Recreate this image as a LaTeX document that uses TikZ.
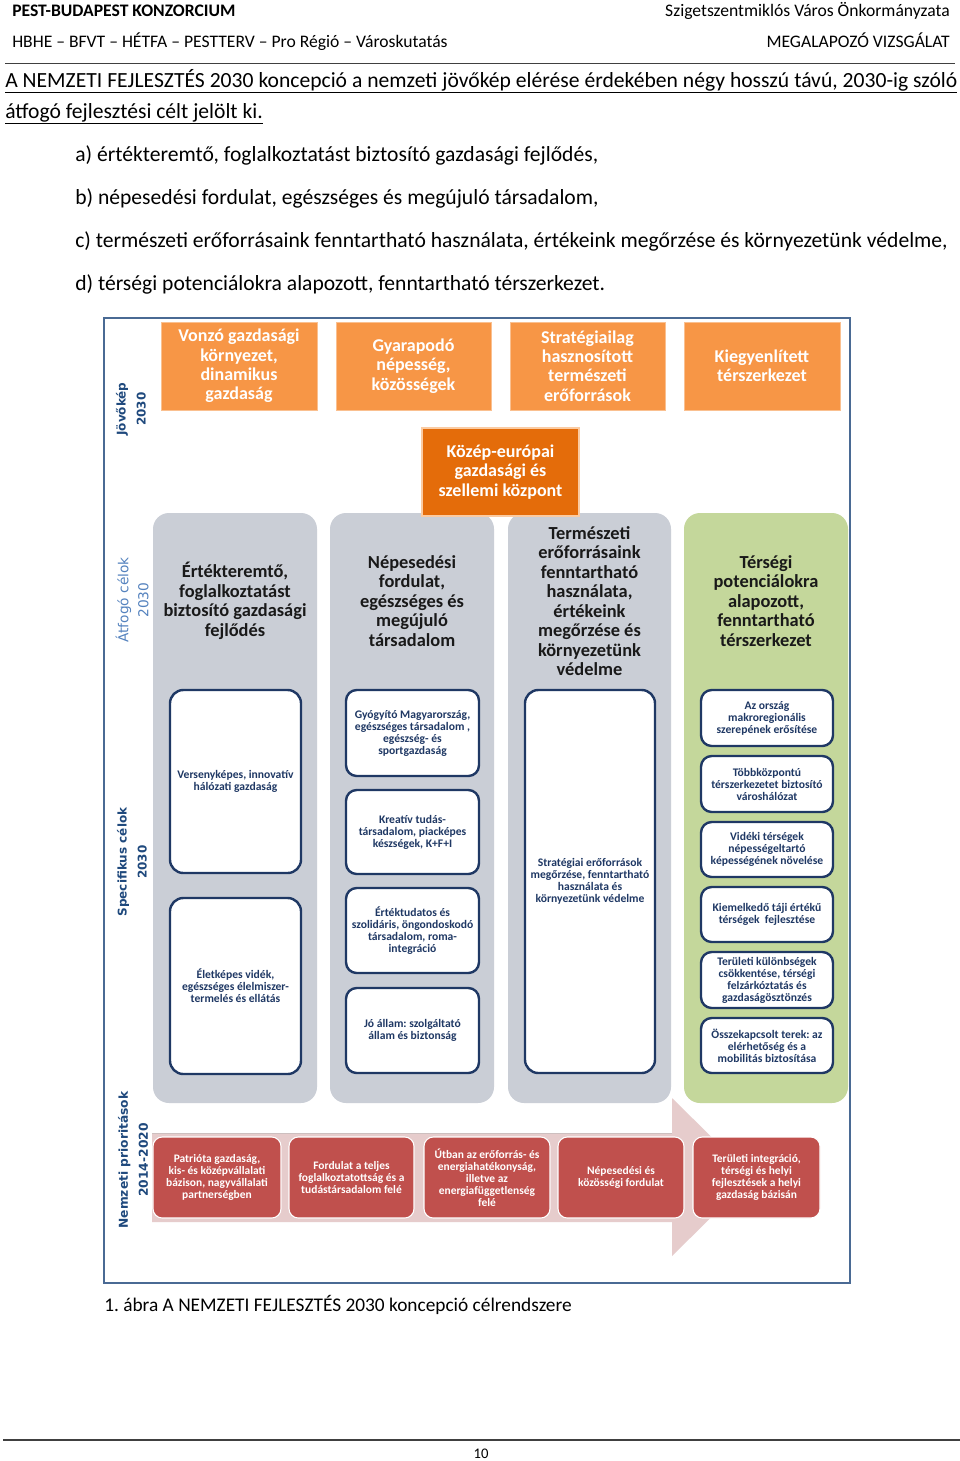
\documentclass[tikz,border=0pt]{standalone}
\usepackage{fontspec}
\setmainfont{Carlito}
\newfontfamily\lblfont{DejaVu Sans}
\frenchspacing
\definecolor{frameC}{RGB}{74,106,148}
\definecolor{orL}{RGB}{247,150,70}
\definecolor{orD}{RGB}{228,108,10}
\definecolor{colgray}{RGB}{202,206,214}
\definecolor{colgreen}{RGB}{196,215,155}
\definecolor{navy}{RGB}{31,56,100}
\definecolor{redC}{RGB}{192,80,77}
\definecolor{pinkC}{RGB}{230,204,204}
\definecolor{dblue}{RGB}{31,73,125}
\definecolor{lblue}{RGB}{84,130,190}
\begin{document}
\begin{tikzpicture}[x=0.75pt,y=-0.75pt,
  bxat/.style n args={4}{inner sep=0pt, outer sep=0pt,
    minimum width={(#3-#1)*0.75pt}, minimum height={(#4-#2)*0.75pt},
    at={({(#1+#3)/2},{(#2+#4)/2})}},
  obox/.style={fill=orL, draw=orL!60!white, line width=0.6pt, text=white, align=center,
    font=\bfseries\fontsize{13.5}{14.6}\selectfont},
  cbox/.style={fill=orD, draw=orL!50!white, line width=1.5pt, text=white, align=center,
    font=\bfseries\fontsize{13.5}{14.6}\selectfont},
  colbox/.style={fill=colgray, rounded corners=12pt},
  hdr/.style={inner sep=0pt, align=center, text=black!90, font=\bfseries\fontsize{13.8}{14.6}\selectfont},
  ibox/.style={fill=white, draw=navy, line width=1.8pt, rounded corners=8pt, text=navy, align=center,
    font=\bfseries\fontsize{8.7}{9}\selectfont},
  rbox/.style={fill=redC, draw=white, line width=0.8pt, rounded corners=7pt, text=white, align=center,
    font=\bfseries\fontsize{8.6}{8.9}\selectfont},
  vlab/.style={rotate=90, inner sep=0pt, align=center, text=dblue, font=\lblfont\bfseries\fontsize{9}{15}\selectfont},
  txt/.style={inner sep=0pt, anchor=base west, font=\fontsize{16.2}{19}\selectfont},
  head/.style={inner sep=0pt, font=\fontsize{13.2}{15}\selectfont}
]
\useasboundingbox (0,0) rectangle (960,1461);
\fill[white] (0,0) rectangle (960,1461);

% page header
\node[head, anchor=base west, font=\bfseries\fontsize{13.2}{15}\selectfont] (h1) at (12,16) {PEST-BUDAPEST KONZORCIUM};
\node[head, anchor=base east] (h2) at (950,16) {Szigetszentmiklós Város Önkormányzata};
\node[head, anchor=base west] (h3) at (12,47) {HBHE – BFVT – HÉTFA – PESTTERV – Pro Régió – Városkutatás};
\node[head, anchor=base east] (h4) at (950,47) {MEGALAPOZÓ VIZSGÁLAT};
\coordinate (hl1) at (5,63);
\coordinate (hl2) at (955,63);
\draw[black!75, line width=0.75pt] (hl1) -- (hl2);

% body text
\node[txt] (p1) at (5,87) {\underline{\makebox[714pt][s]{A NEMZETI FEJLESZTÉS 2030 koncepció a nemzeti jövőkép elérése érdekében négy hosszú távú, 2030-ig szóló}}};
\node[txt] (p2) at (5,118) {\underline{átfogó fejlesztési célt jelölt ki.}};
\node[txt] (la) at (75,161) {a) értékteremtő, foglalkoztatást biztosító gazdasági fejlődés,};
\node[txt] (lb) at (75,204) {b) népesedési fordulat, egészséges és megújuló társadalom,};
\node[txt] (lc) at (75,247) {c) természeti erőforrásaink fenntartható használata, értékeink megőrzése és környezetünk védelme,};
\node[txt] (ld) at (75,290) {d) térségi potenciálokra alapozott, fenntartható térszerkezet.};

% diagram frame
\node[bxat={104}{318}{850}{1283}, draw=frameC, line width=1.5pt] (frame) {};

% vertical labels
\node[vlab] (v1) at (131,409) {Jövőkép\\2030};
\node[vlab, text=lblue, font=\lblfont\fontsize{10.3}{15}\selectfont] (v2) at (132,600) {Átfogó célok\\2030};
\node[vlab] (v3) at (132,862) {Specifikus célok\\2030};
\node[vlab, font=\lblfont\bfseries\fontsize{9.2}{15}\selectfont] (v4) at (133,1160) {Nemzeti prioritások\\2014-2020};

% top orange boxes
\node[obox, bxat={161}{322}{317}{410}] (o1) {Vonzó gazdasági\\környezet,\\dinamikus\\gazdaság};
\node[obox, bxat={336}{322}{491}{410}] (o2) {Gyarapodó\\népesség,\\közösségek};
\node[obox, bxat={510}{322}{665}{410}] (o3) {Stratégiailag\\hasznosított\\természeti\\erőforrások};
\node[obox, bxat={684}{322}{840}{410}] (o4) {Kiegyenlített\\térszerkezet};

% columns
\node[colbox, bxat={153}{513}{317}{1103}] (c1) {};
\node[colbox, bxat={330}{513}{494}{1103}] (c2) {};
\node[colbox, bxat={508}{513}{671}{1103}] (c3) {};
\node[colbox, fill=colgreen, bxat={684}{513}{848}{1103}] (c4) {};

% centre box
\node[cbox, bxat={422}{428}{579}{516}] (ctr) {Közép-európai\\gazdasági és\\szellemi központ};

% column headings
\node[hdr] (t1) at (235,601) {Értékteremtő,\\foglalkoztatást\\biztosító gazdasági\\fejlődés};
\node[hdr] (t2) at (412,601) {Népesedési\\fordulat,\\egészséges és\\megújuló\\társadalom};
\node[hdr] (t3) at (589.5,601) {Természeti\\erőforrásaink\\fenntartható\\használata,\\értékeink\\megőrzése és\\környezetünk\\védelme};
\node[hdr] (t4) at (766,601) {Térségi\\potenciálokra\\alapozott,\\fenntartható\\térszerkezet};

% specific goals
\node[ibox, rounded corners=10pt, bxat={170}{690}{301}{873}] (s11) {Versenyképes, innovatív\\hálózati gazdaság};
\node[ibox, rounded corners=10pt, bxat={170}{898}{301}{1074}] (s12) {Életképes vidék,\\egészséges élelmiszer-\\termelés és ellátás};

\node[ibox, bxat={346}{690}{479}{776}] (s21) {Gyógyító Magyarország,\\egészséges társadalom ,\\egészség- és\\sportgazdaság};
\node[ibox, bxat={346}{790}{479}{874}] (s22) {Kreatív tudás-\\társadalom, piacképes\\készségek, K+F+I};
\node[ibox, bxat={346}{888}{479}{973}] (s23) {Értéktudatos és\\szolidáris, öngondoskodó\\társadalom, roma-\\integráció};
\node[ibox, bxat={346}{988}{479}{1073}] (s24) {Jó állam: szolgáltató\\állam és biztonság};

\node[ibox, rounded corners=10pt, bxat={525}{690}{655}{1073}] (s31) {Stratégiai erőforrások\\megőrzése, fenntartható\\használata és\\környezetünk védelme};

\node[ibox, bxat={701}{690}{833}{746}] (s41) {Az ország\\makroregionális\\szerepének erősítése};
\node[ibox, bxat={701}{756}{833}{812}] (s42) {Többközpontú\\térszerkezetet biztosító\\városhálózat};
\node[ibox, bxat={701}{822}{833}{877}] (s43) {Vidéki térségek\\népességeltartó\\képességének növelése};
\node[ibox, bxat={701}{887}{833}{942}] (s44) {Kiemelkedő táji értékű\\térségek\ \ fejlesztése};
\node[ibox, bxat={701}{952}{833}{1008}] (s45) {Területi különbségek\\csökkentése, térségi\\felzárkóztatás és\\gazdaságösztönzés};
\node[ibox, bxat={701}{1018}{833}{1073}] (s46) {Összekapcsolt terek: az\\elérhetőség és a\\mobilitás biztosítása};

% priorities arrow
\fill[pinkC] (152,1133) -- (672,1133) -- (672,1098) -- (752,1177) -- (672,1256) -- (672,1222) -- (152,1222) -- cycle;
\draw[pinkC!80!black!70, line width=0.6pt] (152,1133) -- (672,1133);

% priorities
\node[rbox, bxat={153}{1137}{281}{1218}] (r1) {Patrióta gazdaság,\\kis- és középvállalati\\bázison, nagyvállalati\\partnerségben};
\node[rbox, bxat={289}{1137}{414}{1218}] (r2) {Fordulat a teljes\\foglalkoztatottság és a\\tudástársadalom felé};
\node[rbox, bxat={424}{1137}{550}{1218}] (r3) {Útban az erőforrás- és\\energiahatékonyság,\\illetve az\\energiafüggetlenség\\felé};
\node[rbox, bxat={558}{1137}{684}{1218}] (r4) {Népesedési és\\közösségi fordulat};
\node[rbox, bxat={693}{1137}{820}{1218}] (r5) {Területi integráció,\\térségi és helyi\\fejlesztések a helyi\\gazdaság bázisán};

% caption and footer
\node[txt, font=\fontsize{14.5}{17}\selectfont] (cap) at (104,1311) {1. ábra A NEMZETI FEJLESZTÉS 2030 koncepció célrendszere};
\coordinate (fl1) at (3,1440);
\coordinate (fl2) at (960,1440);
\draw[black!75, line width=1.4pt] (fl1) -- (fl2);
\node[inner sep=0pt, anchor=base, font=\fontsize{11}{13}\selectfont] (pg) at (481,1458) {10};
\end{tikzpicture}
\end{document}
